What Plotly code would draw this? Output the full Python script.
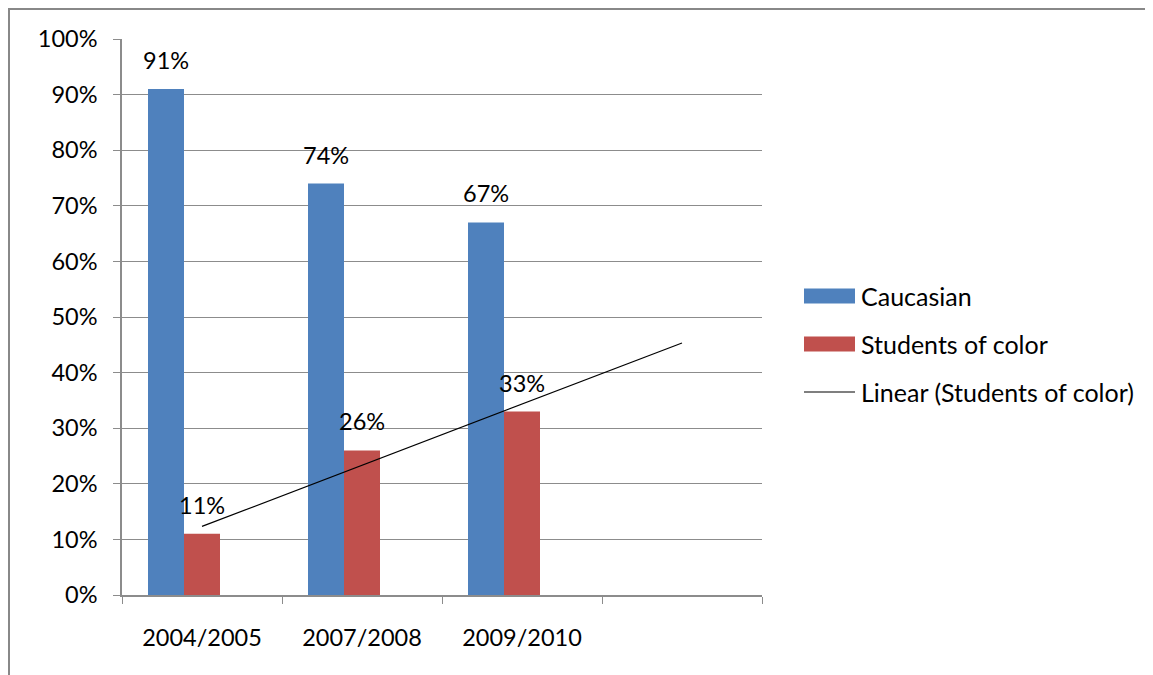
import numpy as np
import plotly.graph_objects as go

# ---- data ----
categories = ["2004/2005", "2007/2008", "2009/2010", " "]
caucasian = [0.91, 0.74, 0.67]
students_of_color = [0.11, 0.26, 0.33]
series_names = ["Caucasian", "Students of color", "Linear (Students of color)"]
y_ticks = [i / 10 for i in range(11)]

# ---- styles ----
FONT = "Lato"
BLUE = "#4F81BD"
RED = "#C0504D"
GRID = "#8C8C8C"
BORDER = "#888888"
FS = 23.5
FS_LEG = 25

OFF = 8  # page body margin
W, H = 1153 - OFF, 675 - OFF
ML, MT = 122 - OFF, 39 - OFF
PW, PH = 640, 556
MR, MB = W - ML - PW, H - MT - PH

def px(xs_):
    # screen x -> paper
    return (xs_ - OFF - ML) / PW

def py(ys_):
    # screen y -> paper
    return (MT + PH - (ys_ - OFF)) / PH

bar_w = 0.225
n = len(caucasian)

# linear trendline for students of color, extended one period forward
xs = np.arange(1, n + 1)
slope, intercept = np.polyfit(xs, students_of_color, 1)
trend_x = np.arange(1, len(categories) + 1)
trend_y = slope * trend_x + intercept

fig = go.Figure()
fig.add_trace(go.Bar(
    x=categories[:n], y=caucasian, name=series_names[0],
    marker=dict(color=BLUE, line=dict(width=0)),
    width=bar_w, offset=-1.5 * bar_w, showlegend=False,
))
fig.add_trace(go.Bar(
    x=categories[:n], y=students_of_color, name=series_names[1],
    marker=dict(color=RED, line=dict(width=0)),
    width=bar_w, offset=-0.5 * bar_w, showlegend=False,
))
fig.add_trace(go.Scatter(
    x=categories, y=trend_y, mode="lines", name=series_names[2],
    line=dict(color="#000000", width=1.2), showlegend=False,
))

annotations = []
for i in range(n):
    annotations.append(dict(
        x=i - bar_w, y=caucasian[i], xref="x", yref="y",
        text=f"{round(caucasian[i] * 100)}%", showarrow=False,
        yanchor="bottom", yshift=13,
        font=dict(family=FONT, size=FS, color="#000000"),
    ))
    annotations.append(dict(
        x=i, y=students_of_color[i], xref="x", yref="y",
        text=f"{round(students_of_color[i] * 100)}%", showarrow=False,
        yanchor="bottom", yshift=13,
        font=dict(family=FONT, size=FS, color="#000000"),
    ))

# manual legend
legend_y = [296, 344, 392]
shapes = []
shapes.append(dict(type="rect", xref="paper", yref="paper",
                   x0=px(804), x1=px(855), y0=py(legend_y[0] + 7.5), y1=py(legend_y[0] - 7.5),
                   fillcolor=BLUE, line=dict(width=0)))
shapes.append(dict(type="rect", xref="paper", yref="paper",
                   x0=px(804), x1=px(855), y0=py(legend_y[1] + 7.5), y1=py(legend_y[1] - 7.5),
                   fillcolor=RED, line=dict(width=0)))
shapes.append(dict(type="line", xref="paper", yref="paper",
                   x0=px(804), x1=px(855), y0=py(legend_y[2]), y1=py(legend_y[2]),
                   line=dict(color="#000000", width=1.2)))
for name, ly in zip(series_names, legend_y):
    annotations.append(dict(
        x=px(859), y=py(ly), xref="paper", yref="paper",
        text=name, showarrow=False, xanchor="left", yanchor="middle",
        font=dict(family=FONT, size=FS_LEG, color="#000000"),
    ))

# mask along the right edge, then the chart border (top & left edges only)
shapes.append(dict(type="rect", xref="paper", yref="paper",
                   x0=px(1138), x1=px(1200), y0=py(700), y1=py(11),
                   fillcolor="white", line=dict(width=0), layer="above"))
shapes.append(dict(type="line", xref="paper", yref="paper",
                   x0=px(8), x1=px(1160), y0=py(9), y1=py(9),
                   line=dict(color=BORDER, width=2), layer="above"))
shapes.append(dict(type="line", xref="paper", yref="paper",
                   x0=px(9), x1=px(9), y0=py(8), y1=py(680),
                   line=dict(color=BORDER, width=2), layer="above"))

fig.update_layout(
    width=W, height=H,
    margin=dict(l=ML, r=MR, t=MT, b=MB, pad=0),
    paper_bgcolor="white", plot_bgcolor="white",
    barmode="overlay",
    font=dict(family=FONT, size=FS, color="#000000"),
    shapes=shapes, annotations=annotations,
    xaxis=dict(
        type="category", categoryorder="array", categoryarray=categories,
        range=[-0.5, len(categories) - 0.5],
        tickson="boundaries", ticks="outside", ticklen=7, tickcolor=GRID, tickwidth=1,
        showline=True, linecolor=GRID, linewidth=1.5, showgrid=False,
        tickfont=dict(family=FONT, size=FS, color="#000000"),
        ticklabelstandoff=21, fixedrange=True,
    ),
    yaxis=dict(
        range=[0, 1], tickvals=y_ticks, tickformat=".0%",
        ticks="outside", ticklen=7, tickcolor=GRID, tickwidth=1,
        showline=True, linecolor=GRID, linewidth=1.5,
        showgrid=True, gridcolor=GRID, gridwidth=1, zeroline=False,
        tickfont=dict(family=FONT, size=FS, color="#000000"),
        ticklabelstandoff=11, fixedrange=True,
    ),
)

fig.write_html(
    "out.html",
    config={"displayModeBar": False},
    post_script="document.documentElement.style.overflow='hidden';document.body.style.overflow='hidden';",
)
